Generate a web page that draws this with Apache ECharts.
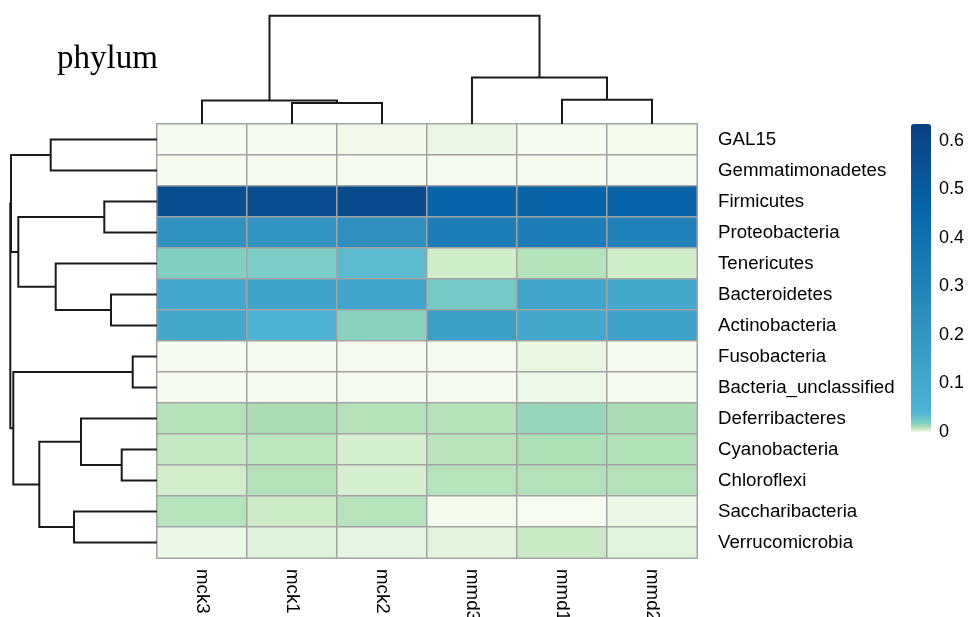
<!DOCTYPE html>
<html><head><meta charset="utf-8">
<script src="https://cdn.jsdelivr.net/npm/echarts@6/dist/echarts.min.js"></script>
<style>html,body{margin:0;padding:0;background:#fff}#c{width:968px;height:617px}</style>
</head><body><div id="c"></div>
<script>
// ---- categories ----
const samples = ['mck3','mck1','mck2','mmd3','mmd1','mmd2'];
const phyla = ['GAL15','Gemmatimonadetes','Firmicutes','Proteobacteria','Tenericutes','Bacteroidetes','Actinobacteria','Fusobacteria','Bacteria_unclassified','Deferribacteres','Cyanobacteria','Chloroflexi','Saccharibacteria','Verrucomicrobia'];

// ---- relative abundance per phylum (columns in sample order) ----
const GAL15                 = [0.0003, 0.0003, 0.0008, 0.0017, 0.0003, 0.0005];
const Gemmatimonadetes      = [0.0003, 0.0002, 0.0003, 0.0002, 0.0003, 0.0003];
const Firmicutes            = [0.575, 0.572, 0.578, 0.468, 0.470, 0.472];
const Proteobacteria        = [0.218, 0.207, 0.229, 0.328, 0.328, 0.311];
const Tenericutes           = [0.0187, 0.020, 0.0338, 0.0046, 0.0083, 0.0046];
const Bacteroidetes         = [0.105, 0.126, 0.121, 0.0222, 0.121, 0.099];
const Actinobacteria        = [0.099, 0.045, 0.0167, 0.148, 0.099, 0.137];
const Fusobacteria          = [0.0003, 0.0003, 0.0003, 0.0003, 0.0020, 0.0003];
const Bacteria_unclassified = [0.0003, 0.0002, 0.0003, 0.0003, 0.0012, 0.0003];
const Deferribacteres       = [0.0083, 0.0096, 0.0082, 0.0082, 0.0141, 0.0100];
const Cyanobacteria         = [0.0061, 0.0071, 0.0040, 0.0078, 0.0093, 0.0089];
const Chloroflexi           = [0.0044, 0.0085, 0.0040, 0.0081, 0.0085, 0.0085];
const Saccharibacteria      = [0.0081, 0.0050, 0.0080, 0.0005, 0.0001, 0.0014];
const Verrucomicrobia       = [0.0014, 0.0031, 0.0022, 0.0026, 0.0054, 0.0030];
const matrix = [GAL15, Gemmatimonadetes, Firmicutes, Proteobacteria, Tenericutes, Bacteroidetes, Actinobacteria, Fusobacteria, Bacteria_unclassified, Deferribacteres, Cyanobacteria, Chloroflexi, Saccharibacteria, Verrucomicrobia];

// ---- clustering (hclust-style merges: negative = leaf index in display order, positive = earlier merge) ----
const colMerge = [[-2,-3,20.8],[-1,1,23.5],[-5,-6,24.2],[-4,3,46.2],[2,4,107.8]];
const rowMerge = [[-8,-9,24.3],[-11,-12,35.3],[-6,-7,46],[-3,-4,52.7],[-10,2,76],[-13,-14,83],[-5,3,101.3],[-1,-2,106.3],[5,6,117.7],[4,7,138.7],[1,9,143.7],[8,10,146],[12,11,146.7]];

// ---- colour scale ----
const legendTicks = [0, 0.1, 0.2, 0.3, 0.4, 0.5, 0.6];
const scaleMax = 0.635;
const stopValues = [0, 0.003, 0.005, 0.01, 0.02, 0.04, 0.25, 0.45, 0.635];
const stopColors = ['#f7fcf0','#e0f3db','#ccebc5','#a8ddb5','#7bccc4','#4eb3d3','#2b8cbe','#0868ac','#084081'];

function hex2rgb(h){return [1,3,5].map(i=>parseInt(h.substr(i,2),16));}
function colorAt(v){
  for(let i=1;i<stopValues.length;i++){
    if(v<=stopValues[i]+1e-12){
      const t=(v-stopValues[i-1])/(stopValues[i]-stopValues[i-1]);
      const a=hex2rgb(stopColors[i-1]), b=hex2rgb(stopColors[i]);
      return 'rgb('+a.map((c,k)=>Math.round(c+(b[k]-c)*t)).join(',')+')';
    }
  }
  return stopColors[stopColors.length-1];
}
const palette = [];
const steps = 635;
for(let i=0;i<=steps;i++) palette.push(colorAt(scaleMax*i/steps));

function dendroSegments(merge){
  const pos=[], hgt=[], res=[];
  merge.forEach((m,i)=>{
    const get = k => k<0 ? [-k-0.5, 0] : [pos[k-1], hgt[k-1]];
    const a=get(m[0]), b=get(m[1]);
    pos[i]=(a[0]+b[0])/2; hgt[i]=m[2];
    res.push([a[0], b[0], a[1], b[1], m[2]]);
  });
  return res;
}
const topSeg = dendroSegments(colMerge);
const leftSeg = dendroSegments(rowMerge);
const topMax = Math.max(...colMerge.map(m=>m[2]));
const leftMax = Math.max(...rowMerge.map(m=>m[2]));

const heatData = [];
matrix.forEach((row,r)=>row.forEach((v,c)=>heatData.push([c,r,v])));

const lineStyle = {stroke:'#1a1a1a', lineWidth:2, fill:'none'};
const sansFont = 'Liberation Sans, Arial, Helvetica, sans-serif';
const hidden = {show:false};

const chart = echarts.init(document.getElementById('c'), null, {renderer:'canvas'});
chart.setOption({
  animation:false,
  backgroundColor:'#fff',
  title:{text:'phylum', left:57, top:43, padding:0,
    textStyle:{fontFamily:'Liberation Serif, Times New Roman, serif', fontSize:33, fontWeight:'normal', color:'#000'}},
  grid:[
    {left:157, top:124, width:540, height:434, containLabel:false, outerBoundsMode:'none'},
    {left:157, top:15.7, width:540, height:124-15.7, outerBoundsMode:'none'},
    {left:157-leftMax, top:124, width:leftMax, height:434, outerBoundsMode:'none'},
    {left:931, top:124, width:1, height:308, outerBoundsMode:'none'}
  ],
  xAxis:[
    {gridIndex:0, type:'category', data:samples, position:'bottom',
      axisLine:hidden, axisTick:hidden, splitLine:hidden,
      axisLabel:{rotate:-90, margin:11, fontSize:18.7, color:'#000', fontFamily:sansFont}},
    {gridIndex:1, type:'value', min:0, max:samples.length, show:false},
    {gridIndex:2, type:'value', min:0, max:leftMax, inverse:true, show:false},
    {gridIndex:3, type:'value', min:0, max:1, show:false}
  ],
  yAxis:[
    {gridIndex:0, type:'category', data:phyla, inverse:true, position:'right',
      axisLine:hidden, axisTick:hidden, splitLine:hidden,
      axisLabel:{margin:21, fontSize:18.7, color:'#000', fontFamily:sansFont}},
    {gridIndex:1, type:'value', min:0, max:topMax, show:false},
    {gridIndex:2, type:'value', min:0, max:phyla.length, inverse:true, show:false},
    {gridIndex:3, type:'value', min:0, max:scaleMax, interval:0.1, position:'right',
      axisLine:hidden, axisTick:hidden, splitLine:hidden,
      axisLabel:{margin:7, fontSize:18, color:'#000', fontFamily:sansFont, showMaxLabel:false,
        formatter:v=>{const t=legendTicks.find(x=>Math.abs(x-v)<1e-6);return t===undefined?'':String(t);}}}
  ],
  visualMap:{type:'continuous', min:0, max:scaleMax, seriesIndex:0, calculable:false, orient:'vertical',
    left:911, top:124, itemWidth:20, itemHeight:308, padding:0, hoverLink:false,
    inRange:{color:palette}},
  series:[
    {type:'heatmap', xAxisIndex:0, yAxisIndex:0, data:heatData, silent:true,
      itemStyle:{borderColor:'#a3a3a3', borderWidth:1.5}, emphasis:{disabled:true}},
    {type:'custom', xAxisIndex:1, yAxisIndex:1, data:topSeg, silent:true, clip:false,
      renderItem:(p,api)=>{
        const x1=api.value(0), x2=api.value(1), h1=api.value(2), h2=api.value(3), h=api.value(4);
        return {type:'polyline', shape:{points:[api.coord([x1,h1]),api.coord([x1,h]),api.coord([x2,h]),api.coord([x2,h2])]}, style:lineStyle};
      }},
    {type:'custom', xAxisIndex:2, yAxisIndex:2, data:leftSeg, silent:true, clip:false,
      renderItem:(p,api)=>{
        const y1=api.value(0), y2=api.value(1), h1=api.value(2), h2=api.value(3), h=api.value(4);
        return {type:'polyline', shape:{points:[api.coord([h1,y1]),api.coord([h,y1]),api.coord([h,y2]),api.coord([h2,y2])]}, style:lineStyle};
      }}
  ]
});
</script></body></html>
